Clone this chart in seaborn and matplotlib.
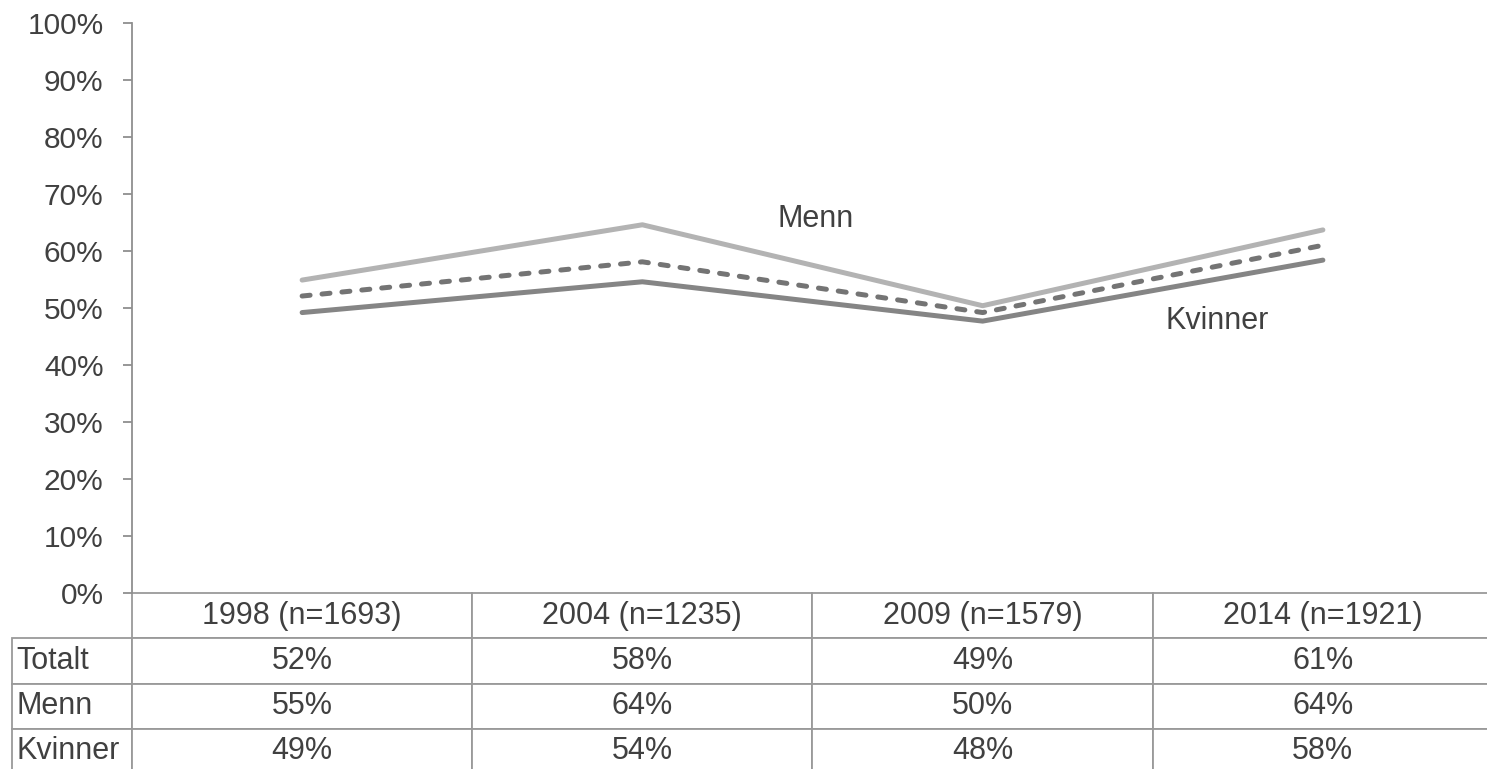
import matplotlib
matplotlib.use("Agg")
import matplotlib.pyplot as plt
import seaborn as sns
import pandas as pd

# ---- data ----
categories = ["1998 (n=1693)", "2004 (n=1235)", "2009 (n=1579)", "2014 (n=1921)"]
totalt = [52.1, 58.1, 49.2, 61.0]
menn = [54.9, 64.6, 50.4, 63.7]
kvinner = [49.2, 54.6, 47.7, 58.4]
table_totalt = ["52%", "58%", "49%", "61%"]
table_menn = ["55%", "64%", "50%", "64%"]
table_kvinner = ["49%", "54%", "48%", "58%"]
yticks = list(range(0, 101, 10))
ytick_labels = [f"{v}%" for v in yticks]

sns.set_theme(style="white")
plt.rcParams["font.family"] = ["Liberation Sans", "DejaVu Sans"]

W, H = 1487, 769
fig = plt.figure(figsize=(W / 100, H / 100), dpi=100)
ax_left, ax_right, ax_top, ax_bottom = 132, 1493, 23, 593
ax = fig.add_axes([ax_left / W, (H - ax_bottom) / H,
                   (ax_right - ax_left) / W, (ax_bottom - ax_top) / H])

df = pd.DataFrame({"cat": categories, "Totalt": totalt, "Menn": menn, "Kvinner": kvinner})
lw = 3.6
sns.lineplot(data=df, x="cat", y="Menn", ax=ax, color="#b3b3b3", linewidth=lw,
             sort=False, solid_capstyle="round")
sns.lineplot(data=df, x="cat", y="Kvinner", ax=ax, color="#858585", linewidth=lw,
             sort=False, solid_capstyle="round")
sns.lineplot(data=df, x="cat", y="Totalt", ax=ax, color="#747474", linewidth=lw,
             sort=False, dashes=False, linestyle=(0, (1.6, 2.4)), dash_capstyle="round")

ax.set_xlim(-0.5, 3.5)
ax.set_ylim(0, 100)
ax.set_yticks(yticks)
ax.set_yticklabels(ytick_labels)
ax.set_xticks([])
ax.set_xlabel("")
ax.set_ylabel("")
for s in ["top", "right", "bottom"]:
    ax.spines[s].set_visible(False)
spine_col = "#8f8f8f"
ax.spines["left"].set_color(spine_col)
ax.spines["left"].set_linewidth(1.3)
ax.tick_params(axis="y", which="major", direction="out", length=6.5, width=1.3,
               color=spine_col, labelsize=21.5, labelcolor="#404040", pad=14, left=True)

ax.text(1.51, 65.6, "Menn", ha="center", va="center", fontsize=22, color="#404040")
ax.text(2.69, 47.7, "Kvinner", ha="center", va="center", fontsize=22, color="#404040")

# ---- data table below the axis ----
row_h = 45.25
n_rows = 4
tab_left = 12
label_w = ax_left - tab_left
axw = ax_right - ax_left
axh = ax_bottom - ax_top
cell_text = [[""] + categories,
             ["Totalt"] + table_totalt,
             ["Menn"] + table_menn,
             ["Kvinner"] + table_kvinner]
col_widths = [label_w / axw] + [0.25] * 4
tbl = ax.table(cellText=cell_text, colWidths=col_widths, cellLoc="center",
               bbox=[-label_w / axw, -(n_rows * row_h) / axh,
                     (label_w + axw) / axw, (n_rows * row_h) / axh])
tbl.auto_set_font_size(False)
tbl.set_fontsize(22)
for (r, c), cell in tbl.get_celld().items():
    cell.set_edgecolor("#9a9a9a")
    cell.set_linewidth(1.3)
    cell.get_text().set_color("#404040")
    if r == 0 and c == 0:
        cell.visible_edges = ""
    if c == 0 and r > 0:
        cell.get_text().set_ha("left")
        cell.PAD = 0.04
        cell._loc = "left"
tbl.set_clip_on(False)

fig.savefig("out.png", dpi=100)
